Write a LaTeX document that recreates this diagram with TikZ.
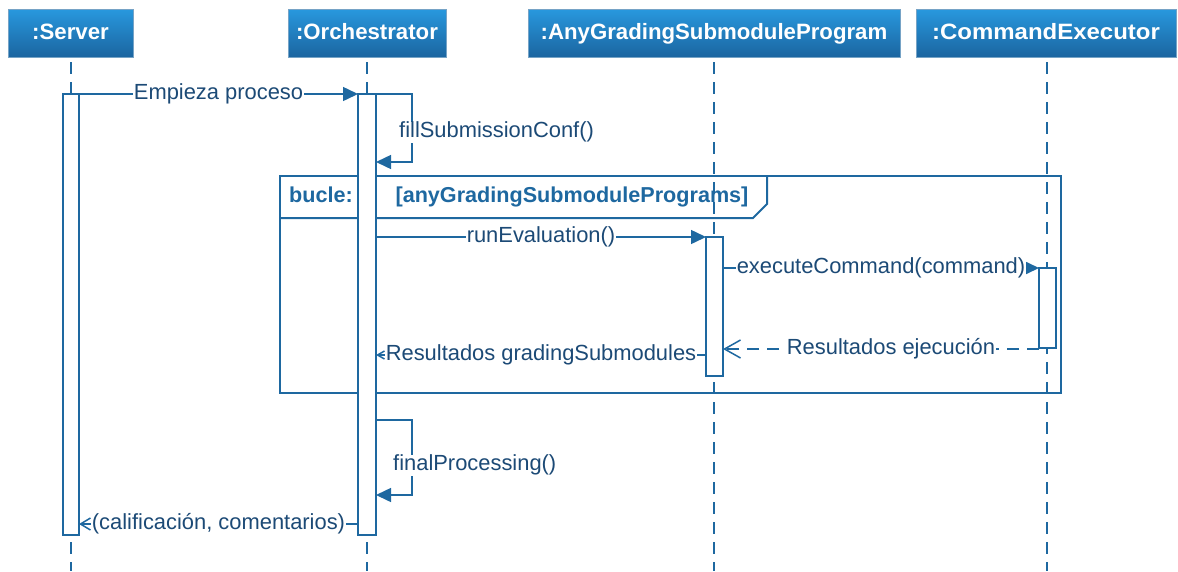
\documentclass[tikz,border=0pt]{standalone}
\usepackage{fontspec}
\usepackage{graphicx}
\setmainfont{Liberation Sans}
\usetikzlibrary{arrows.meta}
\definecolor{lineblue}{RGB}{30,104,160}
\definecolor{textblue}{RGB}{28,74,118}
\definecolor{headtop}{RGB}{40,152,222}
\definecolor{headbot}{RGB}{27,101,160}
\tikzset{
  head/.style={top color=headtop, bottom color=headbot, draw=headbot!60!white,
    line width=0.6pt, text=white, font=\fontsize{22.2}{25}\selectfont\bfseries,
    minimum height=48, inner sep=0pt, text height=16pt, text depth=4pt},
  lifeline/.style={draw=lineblue, line width=1.5pt, dash pattern=on 12pt off 8pt},
  actbar/.style={draw=lineblue, fill=white, line width=1.5pt, inner sep=0pt},
  msg/.style={draw=lineblue, line width=1.5pt, -{Triangle[length=15pt,width=14pt]}},
  reply/.style={draw=lineblue, line width=1.5pt},
  lbl/.style={fill=white, text=textblue, font=\fontsize{21.9}{25}\selectfont,
    inner xsep=1pt, inner ysep=0pt, text height=16pt, text depth=5pt},
  loopframe/.style={draw=lineblue, line width=2pt},
  guard/.style={text=lineblue, font=\fontsize{21.6}{25}\selectfont\bfseries,
    inner sep=0pt, text height=16pt, text depth=5pt},
}
\begin{document}
\begin{tikzpicture}[x=1pt, y=-1pt]
\useasboundingbox (0,0) rectangle (1178,571);

% participant headers
\node[head, minimum width=125] (server) at (70.5,33) {:Server};
\node[head, minimum width=158] (orch) at (367,33) {:Orchestrator};
\node[head, minimum width=372] (anyprog) at (714,33) {:AnyGradingSubmoduleProgram};
\node[head, minimum width=260] (cmdexec) at (1046,33) {\scalebox{1.08}[1]{:CommandExecutor}};

% lifelines
\coordinate (srvtop) at (71,62);   \coordinate (srvend) at (71,571);
\coordinate (orctop) at (367,62);  \coordinate (orcend) at (367,571);
\coordinate (anytop) at (714,62);  \coordinate (anyend) at (714,571);
\coordinate (cmdtop) at (1047,62); \coordinate (cmdend) at (1047,571);
\draw[lifeline] (srvtop) -- (srvend);
\draw[lifeline] (orctop) -- (orcend);
\draw[lifeline] (anytop) -- (anyend);
\draw[lifeline] (cmdtop) -- (cmdend);

% loop fragment
\coordinate (frNW) at (280,176);
\coordinate (frSE) at (1061,393);
\draw[loopframe] (frNW) rectangle (frSE);
\draw[loopframe] (280,218) -- (753,218) -- (767,204) -- (767,176);
\node[guard] (loopkw) at (321,197) {bucle:};
\node[guard] (loopguard) at (572,197) {[anyGradingSubmodulePrograms]};

% activation bars
\node[actbar, minimum width=16, minimum height=441] (srvbar) at (71,314.5) {};
\node[actbar, minimum width=18, minimum height=441] (orcbar) at (367,314.5) {};
\node[actbar, minimum width=17, minimum height=139] (anybar) at (714.5,306.5) {};
\node[actbar, minimum width=17, minimum height=80] (cmdbar) at (1047.5,308) {};

% message end points
\coordinate (m1a) at (79,94);    \coordinate (m1b) at (358,94);
\coordinate (fsa) at (376,94);   \coordinate (fsb) at (376,162);
\coordinate (m2a) at (376,237);  \coordinate (m2b) at (706,237);
\coordinate (m3a) at (723,268);  \coordinate (m3b) at (1039,268);
\coordinate (m4a) at (1039,349); \coordinate (m4b) at (723,349);
\coordinate (m5a) at (706,355);  \coordinate (m5b) at (376,355);
\coordinate (fpa) at (376,420);  \coordinate (fpb) at (376,495);
\coordinate (m6a) at (358,524);  \coordinate (m6b) at (79,524);

% messages
\draw[msg] (m1a) -- node[lbl] (m1l) {Empieza proceso} (m1b);
\draw[msg] (fsa) -- ++(36,0) |- (fsb);
\node[lbl, anchor=west] (fsl) at (398,132) {fillSubmissionConf()};
\draw[msg] (m2a) -- node[lbl] (m2l) {runEvaluation()} (m2b);
\draw[msg] (m3a) -- node[lbl] (m3l) {executeCommand(command)} (m3b);
\draw[reply, dash pattern=on 12pt off 8pt, -{Straight Barb[length=16pt,width=18pt]}]
  (m4a) -- node[lbl, xshift=10pt] (m4l) {Resultados ejecución} (m4b);
\draw[reply, -{Straight Barb[length=7pt,width=8pt]}]
  (m5a) -- node[lbl] (m5l) {Resultados gradingSubmodules} (m5b);
\draw[msg] (fpa) -- ++(36,0) |- (fpb);
\node[lbl, anchor=west] (fpl) at (392,465) {finalProcessing()};
\draw[reply, -{Straight Barb[length=10pt,width=12pt]}]
  (m6a) -- node[lbl] (m6l) {(calificación, comentarios)} (m6b);
\end{tikzpicture}
\end{document}
